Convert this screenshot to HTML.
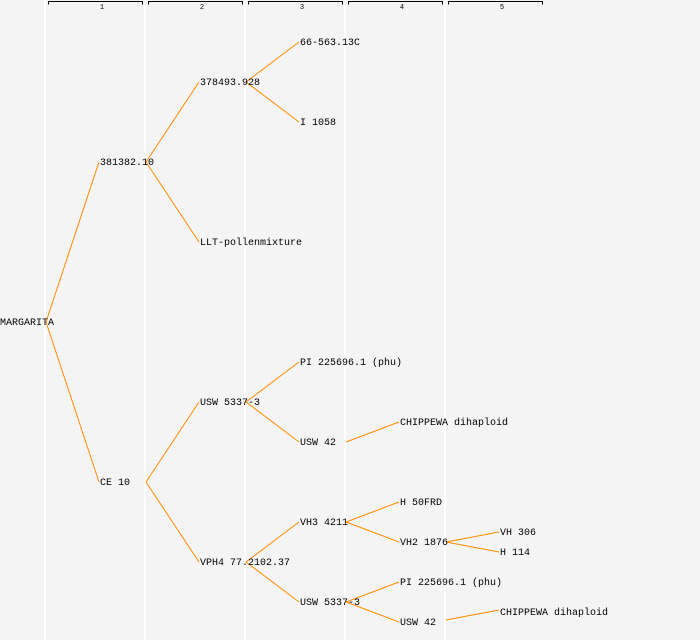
<!DOCTYPE html>
<html><head><meta charset="utf-8"><style>
html,body{margin:0;padding:0;background:#f4f4f4;}
svg{display:block;}
text{font-family:"Liberation Mono","DejaVu Sans Mono",monospace;font-size:10px;fill:#000;}
</style></head><body>
<svg width="700" height="640" viewBox="0 0 700 640">
<rect width="700" height="640" fill="#f4f4f4"/>
<g stroke="#ffffff" stroke-width="2">
<line x1="45" y1="0" x2="45" y2="640"/><line x1="145" y1="0" x2="145" y2="640"/>
<line x1="245" y1="0" x2="245" y2="640"/><line x1="345" y1="0" x2="345" y2="640"/>
<line x1="445" y1="0" x2="445" y2="640"/>
</g>
<g stroke="#000" stroke-width="1" fill="none">
<polyline points="48.5,4.5 48.5,1.5 142.5,1.5 142.5,4.5"/>
<polyline points="148.5,4.5 148.5,1.5 242.5,1.5 242.5,4.5"/>
<polyline points="248.5,4.5 248.5,1.5 342.5,1.5 342.5,4.5"/>
<polyline points="348.5,4.5 348.5,1.5 442.5,1.5 442.5,4.5"/>
<polyline points="448.5,4.5 448.5,1.5 542.5,1.5 542.5,4.5"/>
</g>
<g text-anchor="middle">
<text x="102" y="9" style="font-size:7px">1</text><text x="202" y="9" style="font-size:7px">2</text>
<text x="302" y="9" style="font-size:7px">3</text><text x="402" y="9" style="font-size:7px">4</text>
<text x="502" y="9" style="font-size:7px">5</text>
</g>
<g stroke="#ff8c00" stroke-width="1" fill="none">
<line x1="46" y1="322" x2="99" y2="162"/><line x1="46" y1="322" x2="99" y2="482"/>
<line x1="146" y1="162" x2="199" y2="82"/><line x1="146" y1="162" x2="199" y2="242"/>
<line x1="246" y1="82" x2="299" y2="42"/><line x1="246" y1="82" x2="299" y2="122"/>
<line x1="146" y1="482" x2="199" y2="402"/><line x1="146" y1="482" x2="199" y2="562"/>
<line x1="246" y1="402" x2="299" y2="362"/><line x1="246" y1="402" x2="299" y2="442"/>
<line x1="346" y1="442" x2="399" y2="422"/>
<line x1="246" y1="562" x2="299" y2="522"/><line x1="246" y1="562" x2="299" y2="602"/>
<line x1="346" y1="522" x2="399" y2="502"/><line x1="346" y1="522" x2="399" y2="542"/>
<line x1="446" y1="542" x2="499" y2="532"/><line x1="446" y1="542" x2="499" y2="552"/>
<line x1="346" y1="602" x2="399" y2="582"/><line x1="346" y1="602" x2="399" y2="622"/>
<line x1="446" y1="620" x2="499" y2="610"/>
</g>
<g>
<text x="0" y="325">MARGARITA</text>
<text x="100" y="165">381382.10</text>
<text x="100" y="485">CE 10</text>
<text x="200" y="85">378493.928</text>
<text x="200" y="245">LLT-pollenmixture</text>
<text x="300" y="45">66-563.13C</text>
<text x="300" y="125">I 1058</text>
<text x="200" y="405">USW 5337-3</text>
<text x="200" y="565">VPH4 77.2102.37</text>
<text x="300" y="365">PI 225696.1 (phu)</text>
<text x="300" y="445">USW 42</text>
<text x="400" y="425">CHIPPEWA dihaploid</text>
<text x="300" y="525">VH3 4211</text>
<text x="300" y="605">USW 5337-3</text>
<text x="400" y="505">H 50FRD</text>
<text x="400" y="545">VH2 1876</text>
<text x="500" y="535">VH 306</text>
<text x="500" y="555">H 114</text>
<text x="400" y="585">PI 225696.1 (phu)</text>
<text x="400" y="625">USW 42</text>
<text x="500" y="615">CHIPPEWA dihaploid</text>
</g>
</svg>
</body></html>
